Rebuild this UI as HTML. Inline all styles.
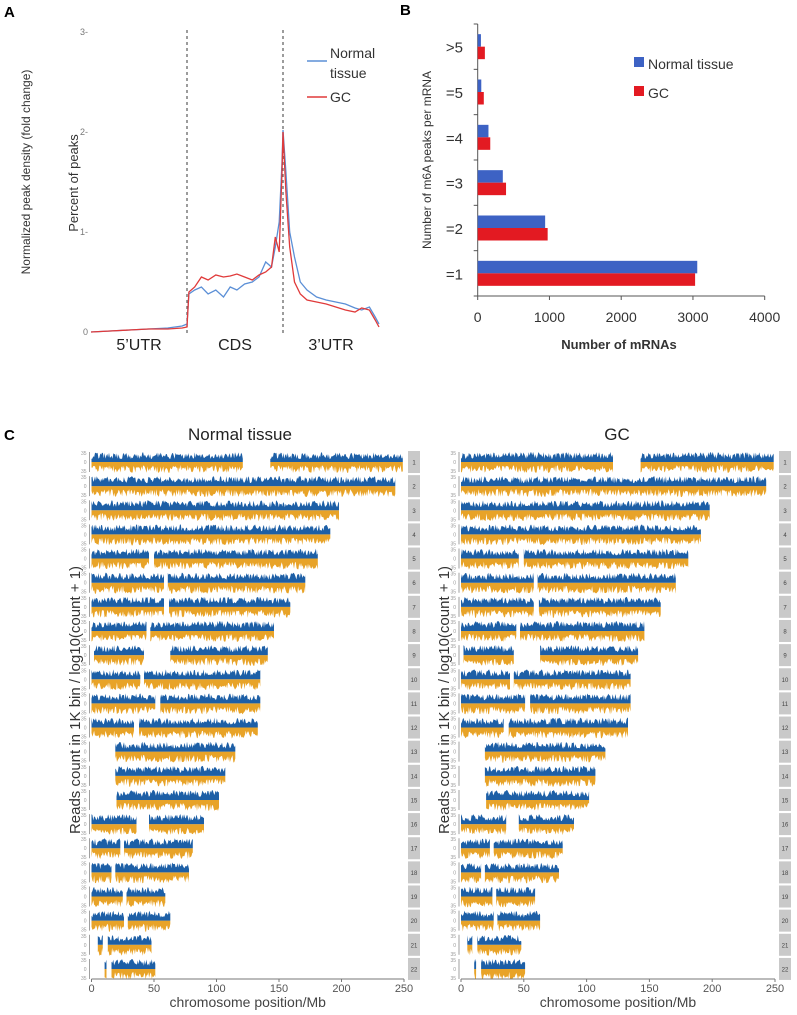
<!DOCTYPE html>
<html><head><meta charset="utf-8"><style>
html,body{margin:0;padding:0;background:#fff;}
svg{display:block;font-family:"Liberation Sans",sans-serif;}
</style></head><body>
<svg id="fig" width="797" height="1015" viewBox="0 0 797 1015" xmlns="http://www.w3.org/2000/svg">
<g id="panelA"></g>
<g id="panelB"></g>
<g id="panelC"></g>
</svg>
<script>
// ---------- Panel A data ----------
const aX = [0,0.2,0.4,0.6,0.8,0.95,1.0,1.02,1.08,1.15,1.22,1.3,1.38,1.45,1.52,1.6,1.68,1.75,1.82,1.88,1.92,1.96,1.99,2.0,2.03,2.07,2.12,2.18,2.25,2.35,2.45,2.55,2.65,2.75,2.82,2.9,2.96,3.0];
const aNormal = [0.0,0.01,0.02,0.03,0.04,0.06,0.08,0.38,0.42,0.45,0.38,0.42,0.35,0.45,0.42,0.48,0.5,0.55,0.7,0.65,0.85,1.1,1.7,2.02,1.6,1.0,0.75,0.5,0.42,0.35,0.32,0.3,0.28,0.24,0.22,0.25,0.15,0.08];
const aGC = [0.0,0.01,0.02,0.03,0.03,0.04,0.05,0.4,0.45,0.55,0.52,0.57,0.55,0.56,0.58,0.55,0.52,0.57,0.6,0.65,0.95,0.8,1.6,2.0,1.4,0.85,0.5,0.38,0.32,0.3,0.28,0.25,0.22,0.2,0.24,0.22,0.12,0.05];
const aYTicks = [0,1,2,3];
const aRegions = ["5\u2019UTR","CDS","3\u2019UTR"];
// ---------- Panel B data ----------
const bCats = ["=1","=2","=3","=4","=5",">5"];
const bNormal = [3060,940,350,150,50,45];
const bGC = [3030,975,395,175,85,100];
const bTicks = [0,1000,2000,3000,4000];
// ---------- Panel C data ----------
const cChrom = ["1","2","3","4","5","6","7","8","9","10","11","12","13","14","15","16","17","18","19","20","21","22"];
const cSegments = [
 [[0,121],[143,249]],[[0,243]],[[0,198]],[[0,191]],[[0,46],[50,181]],[[0,58],[61,171]],
 [[0,58],[62,159]],[[0,44],[47,146]],[[2,42],[63,141]],[[0,39],[42,135]],[[0,51],[55,135]],
 [[0,34],[38,133]],[[19,115]],[[19,107]],[[20,102]],[[0,36],[46,90]],[[0,23],[26,81]],
 [[0,16],[19,78]],[[0,25],[28,59]],[[0,26],[29,63]],[[5,9],[13,48]],[[10.5,12],[16,51]]
];
const cXTicks = [0,50,100,150,200,250];

const NS="http://www.w3.org/2000/svg";
function mk(parent,tag,attrs,text){const e=document.createElementNS(NS,tag);for(const k in attrs)e.setAttribute(k,attrs[k]);if(text!==undefined)e.textContent=text;parent.appendChild(e);return e;}

// ===== Panel A =====
(function(){
 const g=document.getElementById('panelA');
 const x0=91,x1=379,y0=332,yUnit=100;
 const sx=v=>x0+(x1-x0)*v/3, sy=v=>y0-v*yUnit;
 let t=mk(g,'text',{x:4,y:17,'font-size':15,'font-weight':'bold'},'A');
 
 aYTicks.forEach(v=>{const e=mk(g,'text',{x:88,y:sy(v)+3,'font-size':9,fill:'#777','text-anchor':'end'},v===0?'0':v+'-');
  });
 [1,2].forEach(v=>{const l=mk(g,'line',{x1:sx(v),x2:sx(v),y1:30,y2:334,stroke:'#666','stroke-width':1.3,'stroke-dasharray':'3,3'});
  });
 aRegions.forEach((r,i)=>{const e=mk(g,'text',{x:sx(i+0.5),y:350,'font-size':16,'text-anchor':'middle',fill:'#222'},r);
  });
 t=mk(g,'text',{transform:'translate(78,183) rotate(-90)','font-size':13,'text-anchor':'middle',fill:'#333'},'Percent of peaks');
 
 t=mk(g,'text',{transform:'translate(30,172) rotate(-90)','font-size':12,'text-anchor':'middle',fill:'#333'},'Normalized peak density (fold change)');
 
 function line(arr,col,name){const d=arr.map((v,i)=>(i?'L':'M')+sx(aX[i]).toFixed(1)+','+sy(v).toFixed(1)).join('');
  const p=mk(g,'path',{d:d,fill:'none',stroke:col,'stroke-width':1.3});
  }
 line(aNormal,'#5b8fd6','normal-tissue-line');
 line(aGC,'#e03a3a','gc-line');
 let l=mk(g,'line',{x1:307,x2:327,y1:61,y2:61,stroke:'#5b8fd6','stroke-width':1.5});
 
 l=mk(g,'line',{x1:307,x2:327,y1:97,y2:97,stroke:'#e03a3a','stroke-width':1.5});
 
 t=mk(g,'text',{x:330,y:58,'font-size':14,fill:'#333'},'Normal');
 t=mk(g,'text',{x:330,y:78,'font-size':14,fill:'#333'},'tissue');
 t=mk(g,'text',{x:330,y:102,'font-size':14,fill:'#333'},'GC');
})();

// ===== Panel B =====
(function(){
 const g=document.getElementById('panelB');
 const x0=477.7,pxPer=71.75/1000,yTop=24,yBot=296,slot=(yBot-yTop)/6;
 const sx=v=>x0+v*pxPer;
 let t=mk(g,'text',{x:400,y:15,'font-size':15,'font-weight':'bold'},'B');
 
 let l=mk(g,'line',{x1:x0,x2:x0,y1:yTop,y2:yBot,stroke:'#555','stroke-width':1});
 
 l=mk(g,'line',{x1:x0,x2:sx(4000),y1:yBot,y2:yBot,stroke:'#555','stroke-width':1});
 
 for(let i=0;i<=6;i++){const tk=mk(g,'line',{x1:x0-4,x2:x0,y1:yTop+i*slot,y2:yTop+i*slot,stroke:'#555'});
  }
 bTicks.forEach(v=>{const tk=mk(g,'line',{x1:sx(v),x2:sx(v),y1:yBot,y2:yBot+4,stroke:'#555'});
  
  const e=mk(g,'text',{x:sx(v),y:yBot+26,'font-size':14,'text-anchor':'middle',fill:'#333'},String(v));
  });
 bCats.forEach((c,i)=>{const cy=yBot-(i+0.5)*slot;
  const e=mk(g,'text',{x:463,y:cy+6,'font-size':15,'text-anchor':'end',fill:'#333'},c);
  
  const r1=mk(g,'rect',{x:x0,y:cy-12.5,width:sx(bNormal[i])-x0,height:12.5,fill:'#3d62c4'});
  
  const r2=mk(g,'rect',{x:x0,y:cy,width:sx(bGC[i])-x0,height:12.5,fill:'#e31a22'});
  });
 t=mk(g,'text',{x:619,y:349,'font-size':13,'font-weight':'bold','text-anchor':'middle',fill:'#333'},'Number of mRNAs');
 
 t=mk(g,'text',{transform:'translate(431,160) rotate(-90)','font-size':12,'text-anchor':'middle',fill:'#333'},'Number of m6A peaks per mRNA');
 
 let r=mk(g,'rect',{x:634,y:57,width:10,height:10,fill:'#3d62c4'});
 r=mk(g,'rect',{x:634,y:86,width:10,height:10,fill:'#e31a22'});
 t=mk(g,'text',{x:648,y:69,'font-size':14,fill:'#333'},'Normal tissue');
 t=mk(g,'text',{x:648,y:98,'font-size':14,fill:'#333'},'GC');
})();

// ===== Panel C =====
(function(){
 const g=document.getElementById('panelC');
 let t=mk(g,'text',{x:4,y:440,'font-size':15,'font-weight':'bold'},'C');
 
 const row0=462,rowH=24.14;
 function hash(a,b,s){let h=(a*374761393+b*668265263+s*2147483647)>>>0;h=(h^(h>>>13))*1274126177>>>0;return ((h^(h>>>16))>>>0)/4294967296;}
 function panel(px0,px1,title,tx,seed,ytx,name){
  const sub=mk(g,'g',{});
  const sx=v=>px0+(px1-px0)*v/250;
  let e=mk(sub,'text',{x:tx,y:440,'font-size':17,'text-anchor':'middle',fill:'#222'},title);
  
  e=mk(sub,'text',{transform:'translate('+ytx+',700) rotate(-90)','font-size':15,'text-anchor':'middle',fill:'#333'},'Reads count in 1K bin / log10(count + 1)');
  
  cChrom.forEach((c,i)=>{const cy=row0+i*rowH;
   const ax=mk(sub,'line',{x1:px0-2,x2:px0-2,y1:cy-10,y2:cy+10,stroke:'#888','stroke-width':0.8});
   
   [[-9,'35'],[0,'0'],[9,'35']].forEach(p=>{const tl=mk(sub,'text',{x:px0-5,y:cy+p[0]+2,'font-size':5,fill:'#999','text-anchor':'end'},p[1]);
    });
   cSegments[i].forEach((seg,si)=>{
    let up='',dn='';const step=0.7;
    const xs=[];for(let v=seg[0];v<seg[1];v+=step)xs.push(v);xs.push(seg[1]);
    up='M'+sx(seg[0]).toFixed(1)+','+cy;dn='M'+sx(seg[0]).toFixed(1)+','+cy;
    xs.forEach((v,k)=>{const h1=3+7*hash(i+seed,k,1),h2=3+8*hash(i+seed,k,2);
     up+='L'+sx(v).toFixed(1)+','+(cy-h1).toFixed(1);dn+='L'+sx(v).toFixed(1)+','+(cy+h2).toFixed(1);});
    up+='L'+sx(seg[1]).toFixed(1)+','+cy+'Z';dn+='L'+sx(seg[1]).toFixed(1)+','+cy+'Z';
    const pd=mk(sub,'path',{d:dn,fill:'#e8a328'});
    const pu=mk(sub,'path',{d:up,fill:'#1d5fa6'});
   });
   const bx=mk(sub,'rect',{x:px1+4,y:cy-11,width:12,height:22,fill:'#c9c9c9'});
   
   const bt=mk(sub,'text',{x:px1+10,y:cy+2.5,'font-size':6,'text-anchor':'middle',fill:'#444'},c);
   
  });
  const ay=979;
  e=mk(sub,'line',{x1:px0,x2:px1,y1:ay,y2:ay,stroke:'#777','stroke-width':1});
  
  cXTicks.forEach(v=>{const tk=mk(sub,'line',{x1:sx(v),x2:sx(v),y1:ay,y2:ay+3,stroke:'#777'});
   
   const tl=mk(sub,'text',{x:sx(v),y:ay+13,'font-size':11,'text-anchor':'middle',fill:'#555'},String(v));
   });
  e=mk(sub,'text',{x:(px0+px1)/2,y:1007,'font-size':14,'text-anchor':'middle',fill:'#444'},'chromosome position/Mb');
  
 }
 panel(91.5,404,'Normal tissue',240,0,80,'normal-tissue-genome');
 panel(461,775,'GC',617,7,449,'gc-genome');
})();
</script>
</body></html>
